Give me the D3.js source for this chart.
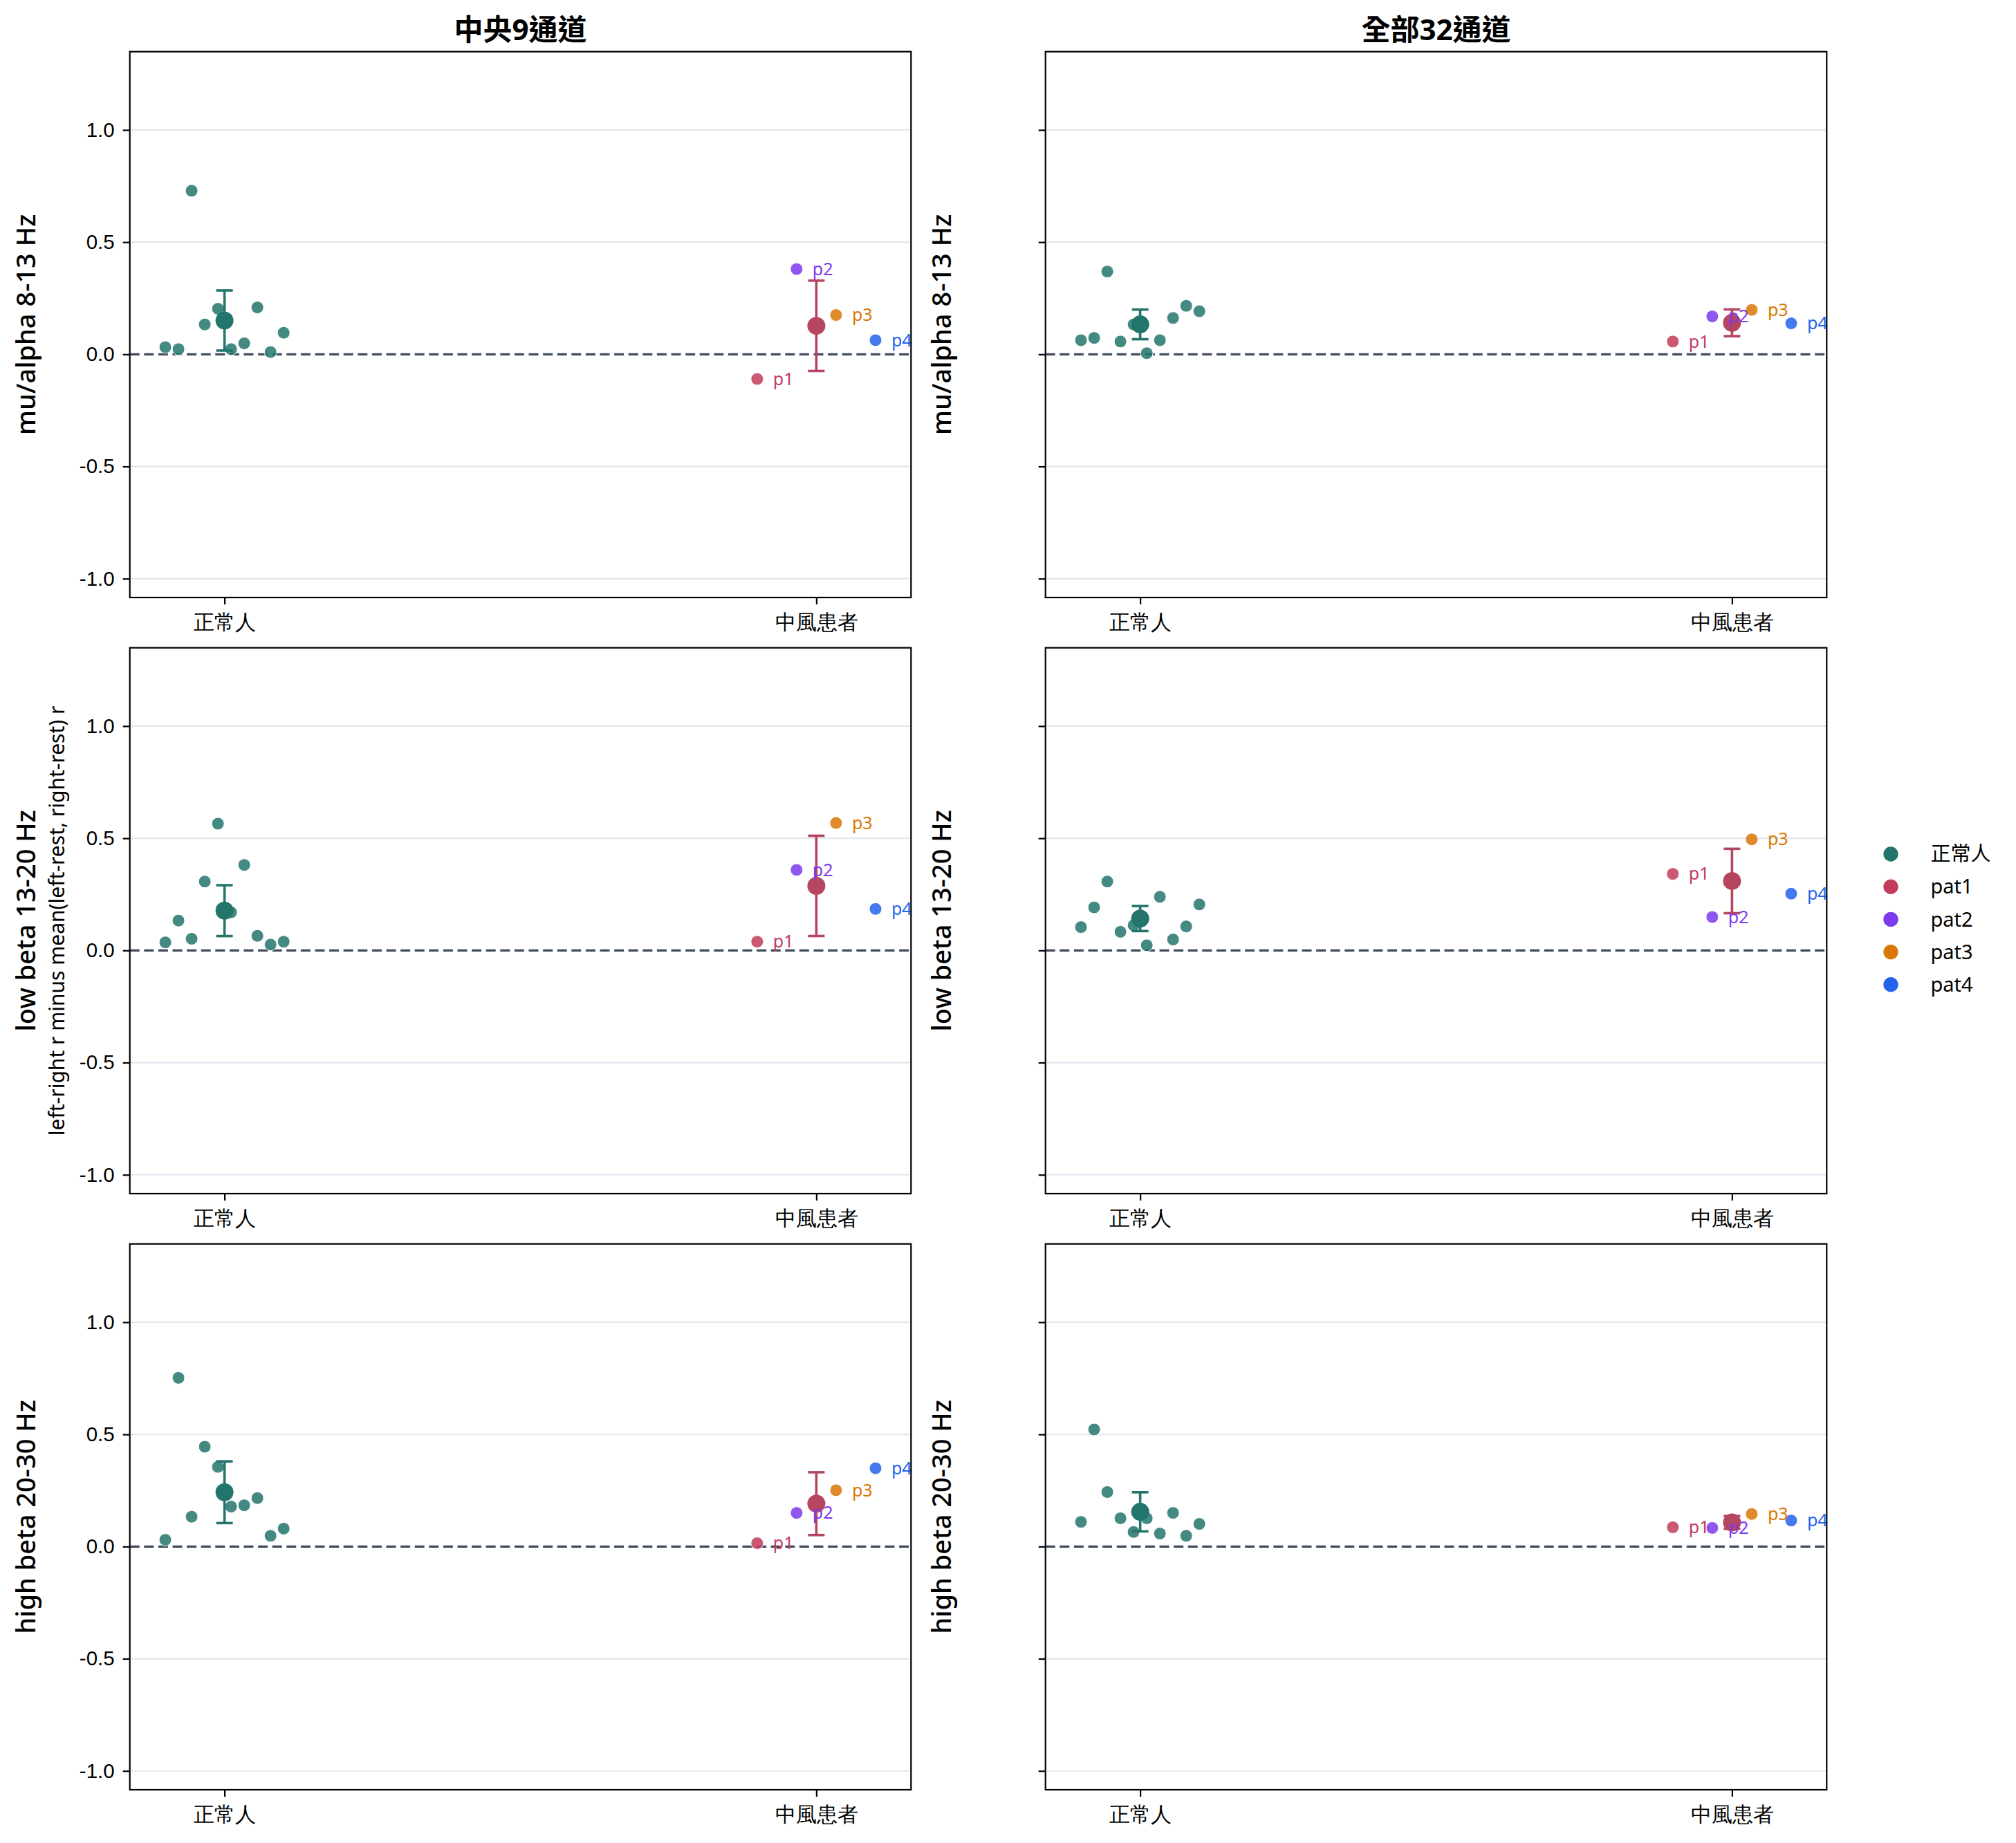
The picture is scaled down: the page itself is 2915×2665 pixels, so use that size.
<!DOCTYPE html>
<html lang="zh-Hant">

<head>
    <meta charset="UTF-8" />
    <title>左右相關差值：正常人 vs 中風患者</title>
    <script src="https://d3js.org/d3.v7.min.js"></script>
    <style>
        body {
            margin: 0;
            background: #fff;
        }

        svg {
            display: block;
            font-family: "Noto Sans", "Noto Sans CJK TC", sans-serif;
        }

        .grid line {
            stroke: #e2e8f0;
            stroke-width: 2.2px;
        }

        .zero {
            stroke: #3f4a5c;
            stroke-width: 3.2px;
            stroke-dasharray: 14 6.6;
        }

        .frame {
            fill: none;
            stroke: #000;
            stroke-width: 2.2px;
        }

        .tick line {
            stroke: #000;
            stroke-width: 2.2px;
        }

        .tick text {
            font-size: 29.5px;
            fill: #000;
        }
    </style>
</head>

<body>
    <svg id="chart" width="2915" height="2665"></svg>

    <script>
        // columns / rows of the grid
        const channelSets = ["中央9通道", "全部32通道"];
        const bands = ["mu/alpha 8-13 Hz", "low beta 13-20 Hz", "high beta 20-30 Hz"];
        const groups = ["正常人", "中風患者"];
        const patientNames = ["pat1", "pat2", "pat3", "pat4"];
        const patientTags = ["p1", "p2", "p3", "p4"];
        const yTicks = [-1.0, -0.5, 0.0, 0.5, 1.0];
        const subLabel = "left-right r minus mean(left-rest, right-rest) r";

        // healthy subjects (10), one row per band
        const healthyC9 = [
            [0.032, 0.023, 0.729, 0.133, 0.203, 0.023, 0.049, 0.209, 0.010, 0.096],
            [0.036, 0.133, 0.052, 0.307, 0.565, 0.170, 0.381, 0.065, 0.026, 0.039],
            [0.030, 0.752, 0.133, 0.445, 0.355, 0.178, 0.184, 0.216, 0.048, 0.080]
        ];
        const healthyC32 = [
            [0.063, 0.073, 0.369, 0.057, 0.133, 0.005, 0.063, 0.162, 0.216, 0.192],
            [0.104, 0.192, 0.307, 0.083, 0.112, 0.023, 0.239, 0.049, 0.107, 0.205],
            [0.110, 0.522, 0.243, 0.126, 0.065, 0.126, 0.058, 0.150, 0.048, 0.101]
        ];

        // stroke patients pat1..pat4, one row per band
        const strokeC9 = [
            [-0.110, 0.380, 0.175, 0.063],
            [0.039, 0.359, 0.568, 0.185],
            [0.015, 0.150, 0.251, 0.349]
        ];
        const strokeC32 = [
            [0.057, 0.169, 0.198, 0.138],
            [0.341, 0.149, 0.495, 0.253],
            [0.086, 0.083, 0.145, 0.116]
        ];

        const healthyByCol = [healthyC9, healthyC32];
        const strokeByCol = [strokeC9, strokeC32];

        const healthyColor = "#23756c";
        const strokeGroupColor = "#b6465f";
        const patientColors = ["#c23c5c", "#7c3aed", "#d97706", "#2563eb"];

        const svg = d3.select("#chart");

        const colX = [187.7, 1511.7];
        const rowY = [74.7, 936.7, 1798.7];
        const axW = 1129.6;
        const axH = 789.3;

        const x = d3.scaleLinear().domain([-0.16, 1.16]).range([0, axW]);
        const y = d3.scaleLinear().domain([-1.084, 1.349]).range([axH, 0]);

        // spread points evenly around the group position
        const spread = (i, n) => n === 1 ? 0 : -0.1 + 0.2 * i / (n - 1);

        function ci95(vals) {
            return 1.96 * d3.deviation(vals) / Math.sqrt(vals.length);
        }

        function drawPanel(c, r) {
            const g = svg.append("g").attr("transform", `translate(${colX[c]},${rowY[r]})`);
            const healthy = healthyByCol[c][r];
            const stroke = strokeByCol[c][r];

            g.append("g").attr("class", "grid")
                .selectAll("line")
                .data(yTicks.filter(t => t !== 0))
                .join("line")
                .attr("x1", 0).attr("x2", axW)
                .attr("y1", d => y(d)).attr("y2", d => y(d));

            g.append("line").attr("class", "zero")
                .attr("x1", 0).attr("x2", axW)
                .attr("y1", y(0)).attr("y2", y(0));

            // individual points
            g.append("g").selectAll("circle")
                .data(healthy)
                .join("circle")
                .attr("cx", (d, i) => x(0 + spread(i, healthy.length)))
                .attr("cy", d => y(d))
                .attr("r", 9)
                .attr("fill", healthyColor)
                .attr("fill-opacity", 0.85)
                .attr("stroke", "#fff")
                .attr("stroke-width", 1);

            g.append("g").selectAll("circle")
                .data(stroke)
                .join("circle")
                .attr("cx", (d, i) => x(1 + spread(i, stroke.length)))
                .attr("cy", d => y(d))
                .attr("r", 9)
                .attr("fill", (d, i) => patientColors[i])
                .attr("fill-opacity", 0.85)
                .attr("stroke", "#fff")
                .attr("stroke-width", 1);

            // mean +/- 95% CI
            [[healthy, 0, healthyColor], [stroke, 1, strokeGroupColor]].forEach(([vals, pos, col]) => {
                const m = d3.mean(vals);
                const e = ci95(vals);
                const eg = g.append("g").attr("stroke", col).attr("stroke-width", 3.6);
                eg.append("line").attr("x1", x(pos)).attr("x2", x(pos)).attr("y1", y(m - e)).attr("y2", y(m + e));
                eg.append("line").attr("x1", x(pos) - 12).attr("x2", x(pos) + 12).attr("y1", y(m - e)).attr("y2", y(m - e));
                eg.append("line").attr("x1", x(pos) - 12).attr("x2", x(pos) + 12).attr("y1", y(m + e)).attr("y2", y(m + e));
                g.append("circle").attr("cx", x(pos)).attr("cy", y(m)).attr("r", 13).attr("fill", col);
            });

            g.append("g").selectAll("text")
                .data(stroke)
                .join("text")
                .attr("x", (d, i) => x(1 + spread(i, stroke.length)) + 23)
                .attr("y", d => y(d))
                .attr("dy", "0.35em")
                .attr("font-size", 25)
                .attr("fill", (d, i) => patientColors[i])
                .text((d, i) => patientTags[i]);

            // axes
            const ya = g.append("g").call(d3.axisLeft(y)
                .tickValues(yTicks)
                .tickSize(10)
                .tickPadding(12)
                .tickFormat(d => c === 0 ? d.toFixed(1) : ""));
            ya.select(".domain").remove();

            const xa = g.append("g").attr("transform", `translate(0,${axH})`)
                .call(d3.axisBottom(x)
                    .tickValues([0, 1])
                    .tickSize(10)
                    .tickPadding(15)
                    .tickFormat(i => groups[i]));
            xa.select(".domain").remove();

            g.append("rect").attr("class", "frame")
                .attr("width", axW).attr("height", axH);

            // y label
            g.append("text")
                .attr("transform", `translate(-150.5,${axH / 2}) rotate(-90)`)
                .attr("text-anchor", "middle")
                .attr("dy", "0.35em")
                .attr("font-size", 38)
                .attr("font-weight", 500)
                .text(bands[r]);

            if (c === 0 && r === 1) {
                g.append("text")
                    .attr("transform", `translate(-105.5,${axH / 2}) rotate(-90)`)
                    .attr("text-anchor", "middle")
                    .attr("dy", "0.35em")
                    .attr("font-size", 30)
                    .text(subLabel);
            }

            if (r === 0) {
                g.append("text")
                    .attr("x", axW / 2)
                    .attr("y", -17)
                    .attr("text-anchor", "middle")
                    .attr("font-size", 42)
                    .attr("font-weight", "bold")
                    .text(channelSets[c]);
            }
        }

        channelSets.forEach((_, c) => bands.forEach((_, r) => drawPanel(c, r)));

        // legend
        const legendItems = [groups[0], ...patientNames];
        const legendColors = [healthyColor, ...patientColors];
        const lg = svg.append("g").attr("transform", "translate(2734,1235)");
        const item = lg.selectAll("g")
            .data(legendItems)
            .join("g")
            .attr("transform", (d, i) => `translate(0,${i * 47.2})`);
        item.append("circle").attr("r", 10.7).attr("fill", (d, i) => legendColors[i]);
        item.append("text")
            .attr("x", 57.5)
            .attr("dy", "0.35em")
            .attr("font-size", 29)
            .text(d => d);
    </script>
</body>

</html>
